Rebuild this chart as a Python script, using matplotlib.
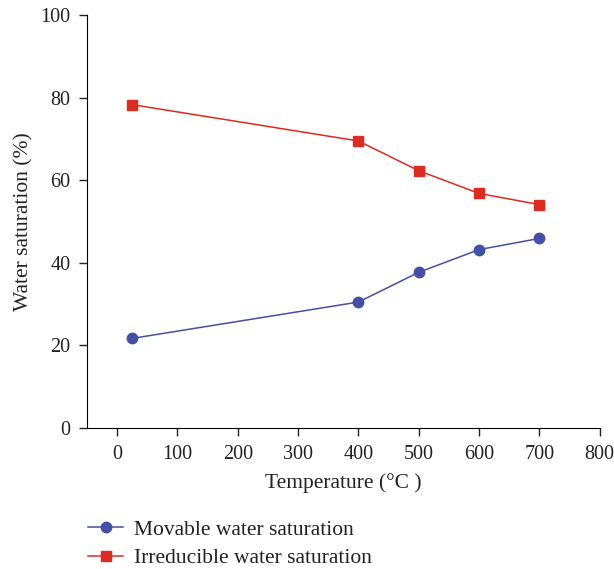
import numpy as np
import matplotlib
matplotlib.use("Agg")
import matplotlib.pyplot as plt

plt.rcParams['font.family'] = ['Liberation Serif', 'DejaVu Serif']
plt.rcParams['mathtext.fontset'] = 'stix'

temperature = [25, 400, 500, 600, 700]  # deg C
movable = [21.7, 30.5, 37.7, 43.2, 45.9]  # %
irreducible = [78.3, 69.5, 62.3, 56.8, 54.1]  # %

blue = '#4450a8'
red = '#df2a1f'

fig = plt.figure(figsize=(6.14, 5.69), dpi=100)
ax = fig.add_axes([0.1417, 0.2478, 0.835, 0.7258])

ax.plot(temperature, movable, c=blue, lw=1.1, marker='o', ms=7.5,
        label='Movable water saturation')
ax.plot(temperature, irreducible, c=red, lw=1.1, marker='s', ms=7,
        label='Irreducible water saturation')

ax.set_xlim(-50, 800)
ax.set_ylim(0, 100)
ax.set_xticks(np.arange(0, 801, 100))
ax.set_yticks(np.arange(0, 101, 20))
ax.spines['top'].set_visible(False)
ax.spines['right'].set_visible(False)
ax.tick_params(direction='out', length=6, width=1, labelsize=14.5, pad=6,
               colors='#222222')
ax.set_xlabel('Temperature (°C )', fontsize=15.5, color='#222222', labelpad=7)
ax.set_ylabel('Water saturation (%)', fontsize=15.5, color='#222222', labelpad=5)

ax.legend(loc='upper left', bbox_to_anchor=(-0.035, -0.175), frameon=False,
          fontsize=15.5, handlelength=1.6, handletextpad=0.5, labelspacing=0.4,
          labelcolor='#222222')

fig.savefig('out.png', dpi=100)
